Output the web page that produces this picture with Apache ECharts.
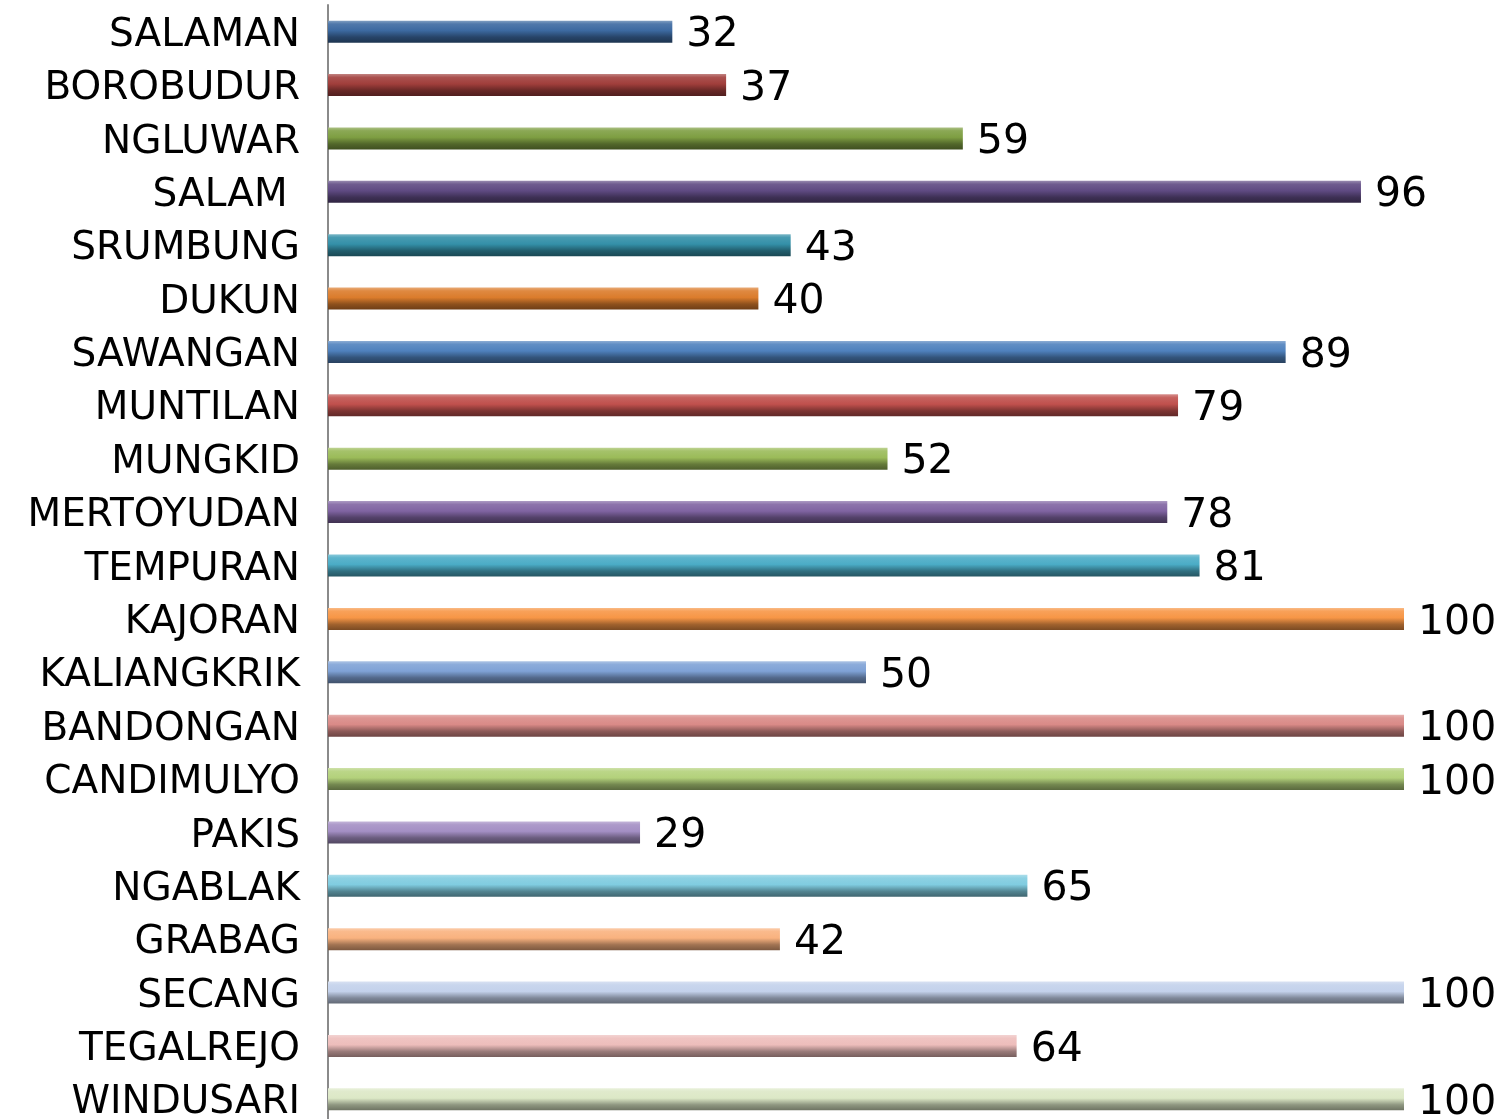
<!DOCTYPE html>
<html>
<head>
<meta charset="utf-8">
<script src="https://cdn.jsdelivr.net/npm/echarts@6/dist/echarts.min.js"></script>
<style>html,body{margin:0;padding:0;background:#fff;}#c{width:1504px;height:1119px;}</style>
</head>
<body>
<div id="c"></div>
<script>
const categories = ["SALAMAN","BOROBUDUR","NGLUWAR","SALAM ","SRUMBUNG","DUKUN","SAWANGAN","MUNTILAN","MUNGKID","MERTOYUDAN","TEMPURAN","KAJORAN","KALIANGKRIK","BANDONGAN","CANDIMULYO","PAKIS","NGABLAK","GRABAG","SECANG","TEGALREJO","WINDUSARI"];
const values = [32,37,59,96,43,40,89,79,52,78,81,100,50,100,100,29,65,42,100,64,100];
const barColors = ["#3C69A0","#A03E3B","#7E9E42","#5F4A82","#3490A8","#DB7C2C",
                   "#4F81BD","#C0504D","#9BBB59","#8064A2","#4BACC6","#F79646",
                   "#7FA2D6","#D98A87","#B3D17B","#A48FC4","#80CCE0","#F9B27F",
                   "#C3D1EB","#EDBDBB","#DCE8C6"];

function shade(hex, f){
  const n=parseInt(hex.slice(1),16);
  let r=n>>16,g=(n>>8)&255,b=n&255;
  if(f>=0){r=r+(255-r)*f;g=g+(255-g)*f;b=b+(255-b)*f;}
  else{r=r*(1+f);g=g*(1+f);b=b*(1+f);}
  return 'rgb('+Math.round(r)+','+Math.round(g)+','+Math.round(b)+')';
}

const data = values.map((v,i)=>({
  value:v,
  itemStyle:{
    color:{type:'linear',x:0,y:0,x2:0,y2:1,colorStops:[
      {offset:0,color:shade(barColors[i],0.35)},
      {offset:0.15,color:shade(barColors[i],0.1)},
      {offset:0.45,color:barColors[i]},
      {offset:0.75,color:shade(barColors[i],-0.35)},
      {offset:1,color:shade(barColors[i],-0.5)}
    ]}
  }
}));

const chart = echarts.init(document.getElementById('c'));
chart.setOption({
  animation:false,
  grid:{left:328,top:5,width:1076,height:1121,outerBoundsMode:'none',containLabel:false},
  xAxis:{type:'value',min:0,max:100,show:false},
  yAxis:{type:'category',inverse:true,data:categories,
    axisLine:{show:true,lineStyle:{color:'#8a8a8a',width:2}},
    axisTick:{show:false},
    axisLabel:{margin:28,formatter:function(v){return '{t|'+v+'}';},
      rich:{t:{color:'#000',fontSize:39,fontFamily:'"DejaVu Sans"',padding:[8,0,0,0]}}}
  },
  series:[{type:'bar',data:data,barWidth:22,
    label:{show:true,position:'right',distance:14,offset:[0,4],color:'#000',fontSize:41,fontFamily:'"DejaVu Sans"'}
  }]
});
</script>
</body>
</html>
